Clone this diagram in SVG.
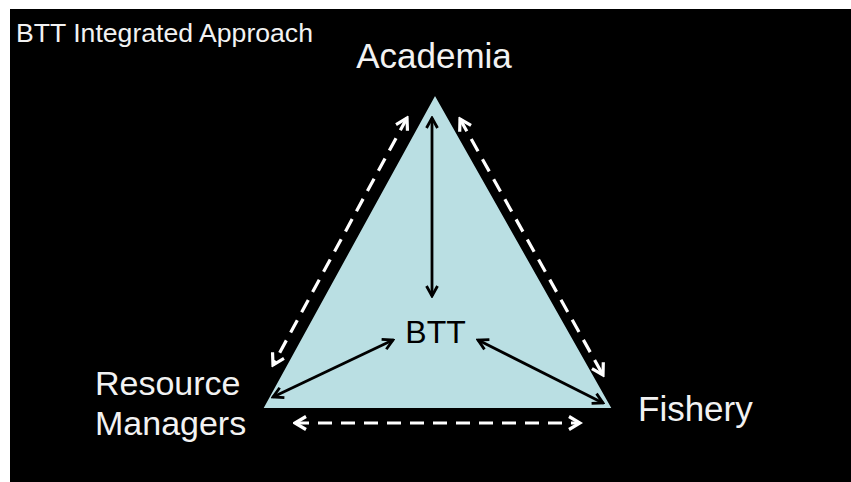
<svg xmlns="http://www.w3.org/2000/svg" width="851" height="482" viewBox="0 0 851 482">
<defs>
<style>
.lbl{font-family:"Liberation Sans",Arial,sans-serif;fill:#f2f2f2}
.blk{stroke:#000;stroke-width:2.8;fill:none}
.dash{stroke:#fff;stroke-width:3.2;fill:none;stroke-dasharray:14 9}
</style>
<marker id="ab" viewBox="0 0 14 14" refX="12" refY="7" markerWidth="14" markerHeight="14" markerUnits="userSpaceOnUse" orient="auto-start-reverse">
<path d="M2,1.5 L12,7 L2,12.5" fill="none" stroke="#000" stroke-width="2.8"/>
</marker>
<marker id="aw" viewBox="0 0 16 16" refX="13.5" refY="8" markerWidth="16" markerHeight="16" markerUnits="userSpaceOnUse" orient="auto-start-reverse">
<path d="M2.5,1.5 L13.5,8 L2.5,14.5" fill="none" stroke="#fff" stroke-width="3.2" stroke-dasharray="none"/>
</marker>
</defs>
<rect x="0" y="0" width="851" height="482" fill="#fff"/>
<rect x="10" y="9" width="841" height="473" fill="#000"/>
<text class="lbl" x="16" y="42" font-size="25" textLength="297" lengthAdjust="spacingAndGlyphs">BTT Integrated Approach</text>
<g id="triangle">
<polygon points="435,94 262,409 613,409" fill="#badfe3" stroke="#000" stroke-width="2"/>
</g>
<g id="academia"><text class="lbl" x="434" y="68" font-size="35" text-anchor="middle">Academia</text></g>
<g id="btt"><text x="435.5" y="343" font-size="32" text-anchor="middle" font-family="Liberation Sans,Arial,sans-serif" fill="#000">BTT</text></g>
<g id="resource-managers"><text class="lbl" x="95" y="395" font-size="34">Resource</text><text class="lbl" x="95" y="435" font-size="34">Managers</text></g>
<g id="fishery"><text class="lbl" x="638" y="421" font-size="35">Fishery</text></g>
<g id="connectors">
<line class="blk" x1="432" y1="118" x2="432" y2="296" marker-start="url(#ab)" marker-end="url(#ab)"/>
<line class="blk" x1="273" y1="397" x2="393" y2="340" marker-start="url(#ab)" marker-end="url(#ab)"/>
<line class="blk" x1="478" y1="340" x2="603" y2="403" marker-start="url(#ab)" marker-end="url(#ab)"/>
<line class="dash" x1="407" y1="118" x2="273" y2="365" marker-start="url(#aw)" marker-end="url(#aw)"/>
<line class="dash" x1="460" y1="119" x2="603" y2="375" marker-start="url(#aw)" marker-end="url(#aw)"/>
<line class="dash" x1="295" y1="423" x2="580" y2="423" marker-start="url(#aw)" marker-end="url(#aw)"/>
</g>
</svg>
